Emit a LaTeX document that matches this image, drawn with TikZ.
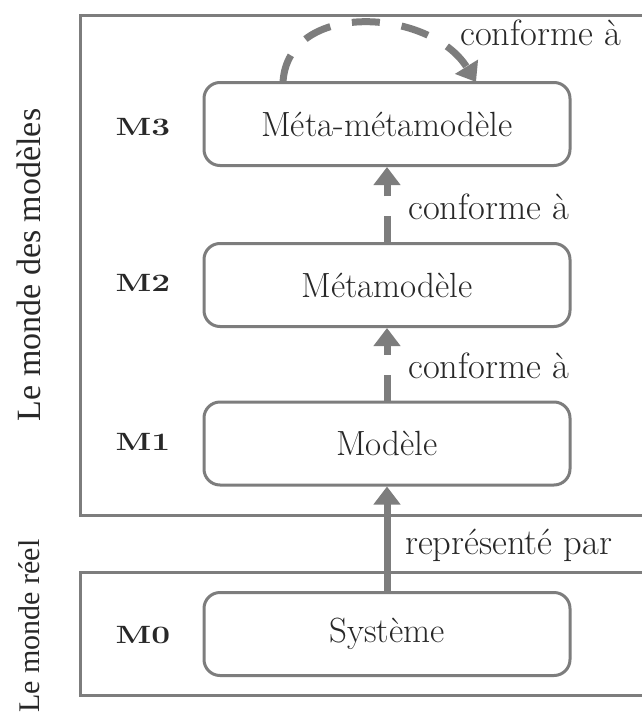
\documentclass[tikz,border=0pt]{standalone}
\usepackage{fontspec}
\newfontfamily\sidefont{Liberation Serif}
\usetikzlibrary{arrows.meta}
\definecolor{linegray}{RGB}{125,125,125}
\definecolor{inkgray}{RGB}{40,40,40}
\newcommand{\widelabel}[1]{\scalebox{1.34}[1]{#1}}
\tikzset{
  x=1pt, y=-1pt,
  levelbox/.style={draw=linegray, line width=3pt, rounded corners=16pt,
    minimum width=366pt, minimum height=83pt, inner sep=0pt,
    text=inkgray, font=\fontsize{35}{40}\selectfont},
  worldbox/.style={draw=linegray, line width=3pt},
  levelname/.style={text=inkgray, inner sep=0pt, font=\bfseries\fontsize{25}{30}\selectfont},
  relname/.style={text=inkgray, anchor=west, inner sep=0pt, font=\fontsize{36.5}{40}\selectfont},
  sidename/.style={text=inkgray, rotate=90, inner sep=0pt, font=\sidefont\fontsize{34}{38}\selectfont},
  conn/.style={draw=linegray, line width=7pt, -{Triangle[length=18pt,width=26pt]}},
  dashconn/.style={conn, dash pattern=on 26pt off 20pt},
}
\begin{document}
\begin{tikzpicture}
  \clip (0,0) rectangle (642,718);
  \fill[white] (0,0) rectangle (642,718);

  % the two worlds
  \draw[worldbox] (80,15) rectangle (680,515);
  \draw[worldbox] (80,572) rectangle (680,695);
  \node[sidename] (modeles) at (29,265) {Le monde des modèles};
  \node[sidename, font=\sidefont\fontsize{30}{36}\selectfont] (reel) at (29,626) {Le monde réel};

  % levels
  \node[levelbox] (m3) at (387,124) {Méta-métamodèle};
  \node[levelbox] (m2) at (387,285) {Métamodèle};
  \node[levelbox] (m1) at (387,443.5) {Modèle};
  \node[levelbox] (m0) at (387,634) {Système};

  \node[levelname] (l3) at (143,127) {\widelabel{M3}};
  \node[levelname] (l2) at (143,283) {\widelabel{M2}};
  \node[levelname] (l1) at (143,442) {\widelabel{M1}};
  \node[levelname] (l0) at (143,635) {\widelabel{M0}};

  % relations
  \draw[conn] (m0.north) -- (m1.south);
  \draw[dashconn] (m1.north) -- (m2.south);
  \draw[dashconn] (m2.north) -- (m3.south);
  \coordinate (loopstart) at (283,82);
  \coordinate (loopend) at (476,82);
  \draw[conn, dash pattern=on 28pt off 22pt]
    (loopstart) .. controls (288,0) and (430,8) .. (loopend);

  \node[relname] (c3) at (460,33) {conforme à};
  \node[relname] (c2) at (408,207) {conforme à};
  \node[relname] (c1) at (408,366) {conforme à};
  \node[relname] (rp) at (405,545) {représenté par};
\end{tikzpicture}
\end{document}
